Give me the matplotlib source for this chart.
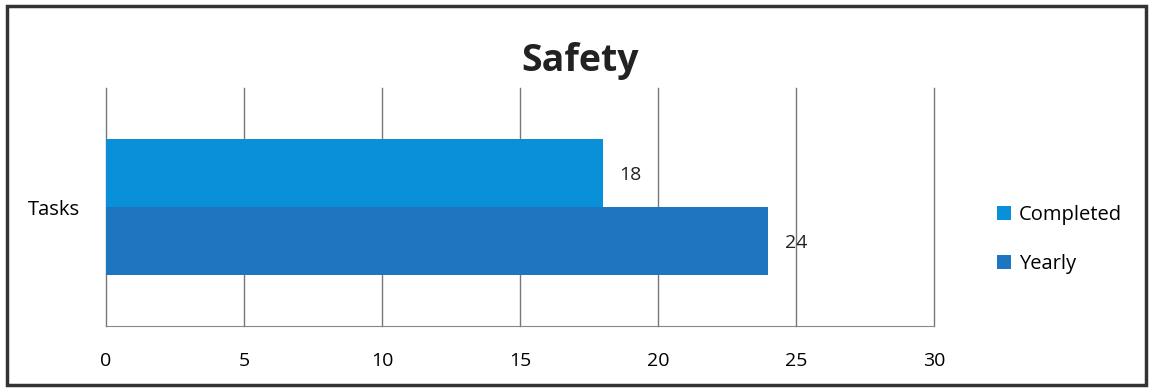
import matplotlib.pyplot as plt
from matplotlib.patches import Rectangle

plt.rcParams['font.family'] = ['Open Sans', 'DejaVu Sans']

category = 'Tasks'
series = ['Completed', 'Yearly']
values = [18, 24]
colors = ['#0a90d8', '#1f76c0']
xticks = [0, 5, 10, 15, 20, 25, 30]

fig = plt.figure(figsize=(11.49, 3.91), dpi=100)
ax = fig.add_axes([0.0923, 0.1662, 0.7206, 0.6087])

h = 0.2857
offsets = [h / 2, -h / 2]
for name, v, c, off in zip(series, values, colors, offsets):
    ax.barh(off, v, height=h, color=c, label=name, zorder=2)
    ax.text(v + 0.6, off - 0.01, str(v), va='center', ha='left', fontsize=14, color='#222222', zorder=3)

ax.set_xlim(0, 30)
ax.set_ylim(-0.5, 0.5)
ax.set_xticks(xticks)
ax.set_xticklabels([str(t) for t in xticks], fontsize=14)
ax.tick_params(axis='x', length=0, pad=19)
ax.set_yticks([0])
ax.set_yticklabels([category], fontsize=14.5)
ax.tick_params(axis='y', length=0, pad=19)
ax.grid(axis='x', color='#777777', linewidth=1, zorder=0)
for gl in ax.get_xgridlines():
    gl.set_clip_on(False)
for s in ['top', 'right', 'left']:
    ax.spines[s].set_visible(False)
ax.spines['bottom'].set_color('#888888')

fig.text(0.505, 0.845, 'Safety', ha='center', va='center', fontsize=27, fontweight='bold', color='#222222')

handles, labels = ax.get_legend_handles_labels()
fig.legend(handles, labels, loc='center left', bbox_to_anchor=(0.852, 0.387), frameon=False,
           fontsize=14.5, handlelength=0.7, handleheight=0.7, handletextpad=0.4, labelspacing=1.45)

fig.patches.append(Rectangle((0.006, 0.015), 0.991, 0.97, transform=fig.transFigure,
                             fill=False, edgecolor='#333333', linewidth=2.5))

fig.savefig('out.png', dpi=100)
